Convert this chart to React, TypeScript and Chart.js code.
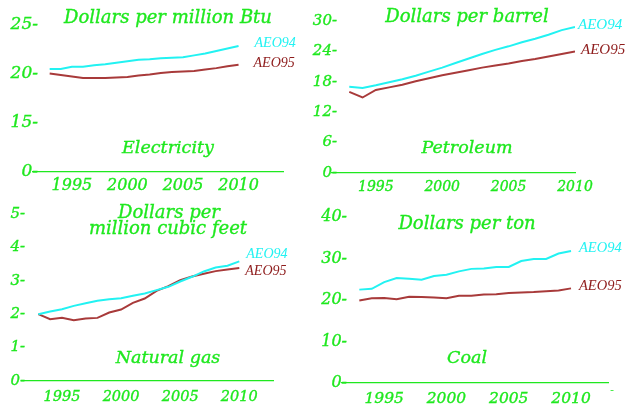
import React, { useEffect, useRef } from "react";
import { Chart, registerables } from "chart.js";

Chart.register(...registerables);

const years = [1993, 1994, 1995, 1996, 1997, 1998, 1999, 2000, 2001, 2002, 2003, 2004, 2005, 2006, 2007, 2008, 2009, 2010];
const xTickYears = [1995, 2000, 2005, 2010];

const elecAEO94 = [20.5, 20.5, 20.75, 20.75, 20.9, 21.0, 21.15, 21.3, 21.45, 21.5, 21.6, 21.65, 21.7, 21.9, 22.1, 22.35, 22.6, 22.85];
const elecAEO95 = [20.05, 19.9, 19.75, 19.6, 19.6, 19.6, 19.65, 19.7, 19.85, 19.95, 20.1, 20.2, 20.25, 20.3, 20.45, 20.6, 20.8, 20.95];

const petAEO94 = [17.0, 16.8, 17.3, 17.9, 18.5, 19.2, 20.0, 20.8, 21.7, 22.6, 23.5, 24.3, 25.0, 25.8, 26.5, 27.3, 28.2, 28.8];
const petAEO95 = [16.0, 14.9, 16.4, 16.9, 17.4, 18.1, 18.7, 19.3, 19.8, 20.3, 20.8, 21.2, 21.6, 22.1, 22.5, 23.0, 23.5, 24.0];

const gasAEO94 = [2.0, 2.08, 2.15, 2.25, 2.33, 2.4, 2.45, 2.48, 2.55, 2.62, 2.72, 2.82, 2.98, 3.12, 3.28, 3.4, 3.45, 3.58];
const gasAEO95 = [2.0, 1.85, 1.89, 1.82, 1.87, 1.89, 2.05, 2.14, 2.34, 2.47, 2.7, 2.84, 3.02, 3.13, 3.21, 3.29, 3.34, 3.38];

const coalAEO94 = [22.5, 22.7, 24.3, 25.3, 25.1, 24.9, 25.8, 26.1, 26.9, 27.5, 27.6, 27.95, 27.95, 29.4, 29.9, 29.9, 31.2, 31.8];
const coalAEO95 = [19.9, 20.4, 20.5, 20.2, 20.8, 20.7, 20.6, 20.4, 21.0, 21.0, 21.3, 21.4, 21.7, 21.8, 21.9, 22.1, 22.3, 22.8];

const elecYTicks = [10, 15, 20, 25];
const elecYLabels = ["0", "15", "20", "25"];
const petYTicks = [0, 6, 12, 18, 24, 30];
const gasYTicks = [0, 1, 2, 3, 4, 5];
const coalYTicks = [0, 10, 20, 30, 40];

const GREEN = "#1fe81f";
const CYAN = "#22f2f2";
const RED = "#a83a3a";
const RED_TEXT = "#8e1c1c";
const TITLE_FONT = "'DejaVu Serif', serif";
const LABEL_FONT = "'Liberation Serif', serif";

type TextItem = { text: string; x: number; y: number; size: number };

type PanelProps = {
  left: number;
  top: number;
  width: number;
  height: number;
  aeo94: number[];
  aeo95: number[];
  xMin: number;
  xMax: number;
  yMin: number;
  yMax: number;
  yTicks: number[];
  yLabels: string[];
  area: { left: number; right: number; top: number; bottom: number };
  yFont: number;
  xFont: number;
  yOver: number;
  xPad: number;
  texts: TextItem[];
  off94: [number, number];
  off95: [number, number];
  labelSize: number;
};

function Panel(p: PanelProps) {
  const ref = useRef<HTMLCanvasElement | null>(null);
  useEffect(() => {
    if (!ref.current) return;
    const textPlugin = {
      id: "panelText",
      afterDatasetsDraw(chart: any) {
        const ctx = chart.ctx;
        ctx.save();
        ctx.fillStyle = GREEN;
        ctx.strokeStyle = GREEN;
        ctx.lineWidth = 0.35;
        // y-axis tick labels, positioned by the library's y scale
        ctx.textAlign = "right";
        ctx.textBaseline = "middle";
        ctx.font = `italic ${p.yFont}px ${TITLE_FONT}`;
        const ys = chart.scales.y;
        p.yTicks.forEach((v, i) => {
          const py = ys.getPixelForValue(v);
          const s = p.yLabels[i] + "-";
          const px = chart.chartArea.left + p.yOver;
          ctx.fillText(s, px, py);
          ctx.strokeText(s, px, py);
        });
        ctx.textAlign = "center";
        for (const t of p.texts) {
          ctx.font = `italic ${t.size}px ${TITLE_FONT}`;
          ctx.fillText(t.text, t.x, t.y);
          ctx.strokeText(t.text, t.x, t.y);
        }
        ctx.textAlign = "left";
        ctx.font = `italic ${p.labelSize}px ${LABEL_FONT}`;
        const defs: [number, string, [number, number]][] = [
          [0, CYAN, p.off94],
          [1, RED_TEXT, p.off95],
        ];
        for (const [di, color, off] of defs) {
          const meta = chart.getDatasetMeta(di);
          const last = meta.data[meta.data.length - 1];
          ctx.fillStyle = color;
          ctx.fillText(chart.data.datasets[di].label, last.x + off[0], last.y + off[1]);
        }
        ctx.restore();
      },
    };
    const chart = new Chart(ref.current, {
      type: "line",
      data: {
        datasets: [
          {
            label: "AEO94",
            data: years.map((y, i) => ({ x: y, y: p.aeo94[i] })),
            borderColor: CYAN,
            borderWidth: 2,
            pointRadius: 0,
            tension: 0,
          },
          {
            label: "AEO95",
            data: years.map((y, i) => ({ x: y, y: p.aeo95[i] })),
            borderColor: RED,
            borderWidth: 2,
            pointRadius: 0,
            tension: 0,
          },
        ],
      },
      options: {
        animation: false,
        responsive: false,
        maintainAspectRatio: false,
        devicePixelRatio: 1,
        layout: {
          padding: { left: 0, top: p.area.top, right: p.width - p.area.right, bottom: 0 },
        },
        plugins: { legend: { display: false }, tooltip: { enabled: false }, title: { display: false } },
        scales: {
          x: {
            type: "linear",
            min: p.xMin,
            max: p.xMax,
            grid: { display: false, drawTicks: false },
            border: { display: true, color: GREEN, width: 1.2 },
            afterBuildTicks: (s: any) => {
              s.ticks = xTickYears.map((v) => ({ value: v }));
            },
            afterFit: (s: any) => {
              s.height = p.height - p.area.bottom;
            },
            ticks: {
              color: GREEN,
              font: { family: TITLE_FONT, size: p.xFont, style: "italic" },
              padding: p.xPad,
              maxRotation: 0,
              autoSkip: false,
              textStrokeColor: GREEN,
              textStrokeWidth: 0.35,
              callback: (v: any) => String(v),
            },
          },
          y: {
            type: "linear",
            min: p.yMin,
            max: p.yMax,
            grid: { display: false, drawTicks: false },
            border: { display: false },
            afterBuildTicks: (s: any) => {
              s.ticks = p.yTicks.map((v) => ({ value: v }));
            },
            afterFit: (s: any) => {
              s.width = p.area.left;
            },
            ticks: { display: false },
          },
        },
      },
      plugins: [textPlugin],
    } as any);
    return () => chart.destroy();
  }, []);
  return (
    <canvas
      ref={ref}
      width={p.width}
      height={p.height}
      style={{ position: "absolute", left: p.left, top: p.top, width: p.width, height: p.height }}
    />
  );
}

export default function App() {
  useEffect(() => {
    document.body.style.margin = "0";
    document.body.style.background = "#ffffff";
  }, []);
  return (
    <div style={{ position: "relative", width: 627, height: 407, background: "#fff", overflow: "hidden" }}>
      <Panel
        left={0}
        top={0}
        width={310}
        height={200}
        aeo94={elecAEO94}
        aeo95={elecAEO95}
        xMin={1991.5}
        xMax={2014}
        yMin={10}
        yMax={25}
        yTicks={elecYTicks}
        yLabels={elecYLabels}
        area={{ left: 33, right: 283, top: 25, bottom: 172 }}
        yFont={17}
        xFont={16}
        yOver={5}
        xPad={4}
        texts={[
          { text: "Dollars per million Btu", x: 168, y: 18, size: 18 },
          { text: "Electricity", x: 168, y: 148, size: 17.5 },
        ]}
        off94={[16, -3]}
        off95={[15, -1.5]}
        labelSize={14}
      />
      <Panel
        left={310}
        top={0}
        width={317}
        height={200}
        aeo94={petAEO94}
        aeo95={petAEO95}
        xMin={1991.7}
        xMax={2010}
        yMin={0}
        yMax={30}
        yTicks={petYTicks}
        yLabels={petYTicks.map(String)}
        area={{ left: 22, right: 265, top: 21, bottom: 173 }}
        yFont={15}
        xFont={14}
        yOver={5}
        xPad={6}
        texts={[
          { text: "Dollars per barrel", x: 157, y: 17.5, size: 18 },
          { text: "Petroleum", x: 157, y: 148, size: 17.5 },
        ]}
        off94={[3, -2]}
        off95={[6, -1]}
        labelSize={15}
      />
      <Panel
        left={0}
        top={200}
        width={310}
        height={207}
        aeo94={gasAEO94}
        aeo95={gasAEO95}
        xMin={1991.62}
        xMax={2012.85}
        yMin={0}
        yMax={5}
        yTicks={gasYTicks}
        yLabels={gasYTicks.map(String)}
        area={{ left: 22, right: 273, top: 14, bottom: 181 }}
        yFont={15}
        xFont={14.5}
        yOver={3}
        xPad={8}
        texts={[
          { text: "Dollars per", x: 169, y: 13.5, size: 18 },
          { text: "million cubic feet", x: 168, y: 29.5, size: 18 },
          { text: "Natural gas", x: 168, y: 158.5, size: 17.5 },
        ]}
        off94={[7, -7]}
        off95={[6, 3]}
        labelSize={14}
      />
      <Panel
        left={310}
        top={200}
        width={317}
        height={207}
        aeo94={coalAEO94}
        aeo95={coalAEO95}
        xMin={1991.61}
        xMax={2012.97}
        yMin={0}
        yMax={40}
        yTicks={coalYTicks}
        yLabels={coalYTicks.map(String)}
        area={{ left: 32, right: 298, top: 17, bottom: 183 }}
        yFont={16}
        xFont={15.5}
        yOver={5}
        xPad={7}
        texts={[
          { text: "Dollars per ton", x: 157, y: 24, size: 18 },
          { text: "Coal", x: 157, y: 158, size: 17.5 },
          { text: "-", x: 302, y: 191, size: 9 },
        ]}
        off94={[8, -3]}
        off95={[8, -2]}
        labelSize={14.5}
      />
    </div>
  );
}
